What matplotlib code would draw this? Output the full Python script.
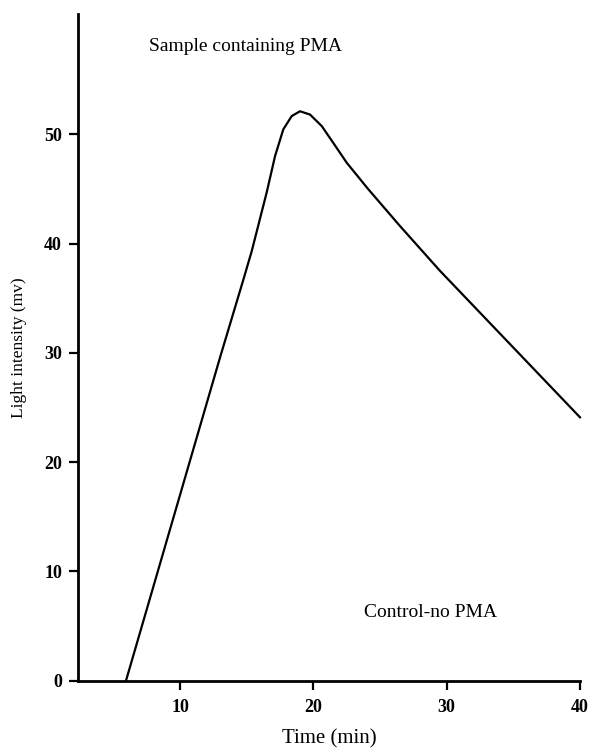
import matplotlib
matplotlib.use("Agg")
import matplotlib.pyplot as plt

# Valores
time_min = [5.95, 13.0, 14.73, 15.38, 16.5, 17.13, 17.75, 18.38, 19.0,
            19.75, 20.63, 21.5, 22.5, 23.5, 24.1, 26.5, 29.5, 40.0]
light_mv = [0.0, 29.56, 36.6, 39.3, 44.66, 48.0, 50.45, 51.66, 52.1,
            51.8, 50.75, 49.2, 47.4, 45.9, 45.0, 41.6, 37.5, 24.1]
x_ticks = [10, 20, 30, 40]
y_ticks = [0, 10, 20, 30, 40, 50]

plt.rcParams["font.family"] = ["Liberation Serif", "DejaVu Serif"]

fig = plt.figure(figsize=(5.94, 7.52), dpi=100)
ax = fig.add_axes([0.1313, 0.0948, 0.8451, 0.8866])

ax.plot(time_min, light_mv, color="black", linewidth=1.6,
        solid_joinstyle="round", clip_on=False)

ax.set_xlim(2.35, 40)
ax.set_ylim(0, 61)
ax.set_xticks(x_ticks)
ax.set_yticks(y_ticks)

for s in ["top", "right"]:
    ax.spines[s].set_visible(False)
for s in ["left", "bottom"]:
    ax.spines[s].set_linewidth(2.0)

ax.tick_params(axis="both", direction="out", length=6.5, width=1.6,
               labelsize=13, pad=5)
ax.tick_params(axis="x", pad=7)
for lab in ax.get_xticklabels() + ax.get_yticklabels():
    lab.set_fontweight("bold")

ax.set_xlabel("Time (min)", fontsize=15, labelpad=9)
ax.set_ylabel("Light intensity (mv)", fontsize=12.5, labelpad=12)

ax.text(14.95, 58.05, "Sample containing PMA", ha="center", va="center",
        fontsize=14)
ax.text(28.83, 6.2, "Control-no PMA", ha="center", va="center",
        fontsize=14)

fig.savefig("out.png", dpi=100)
